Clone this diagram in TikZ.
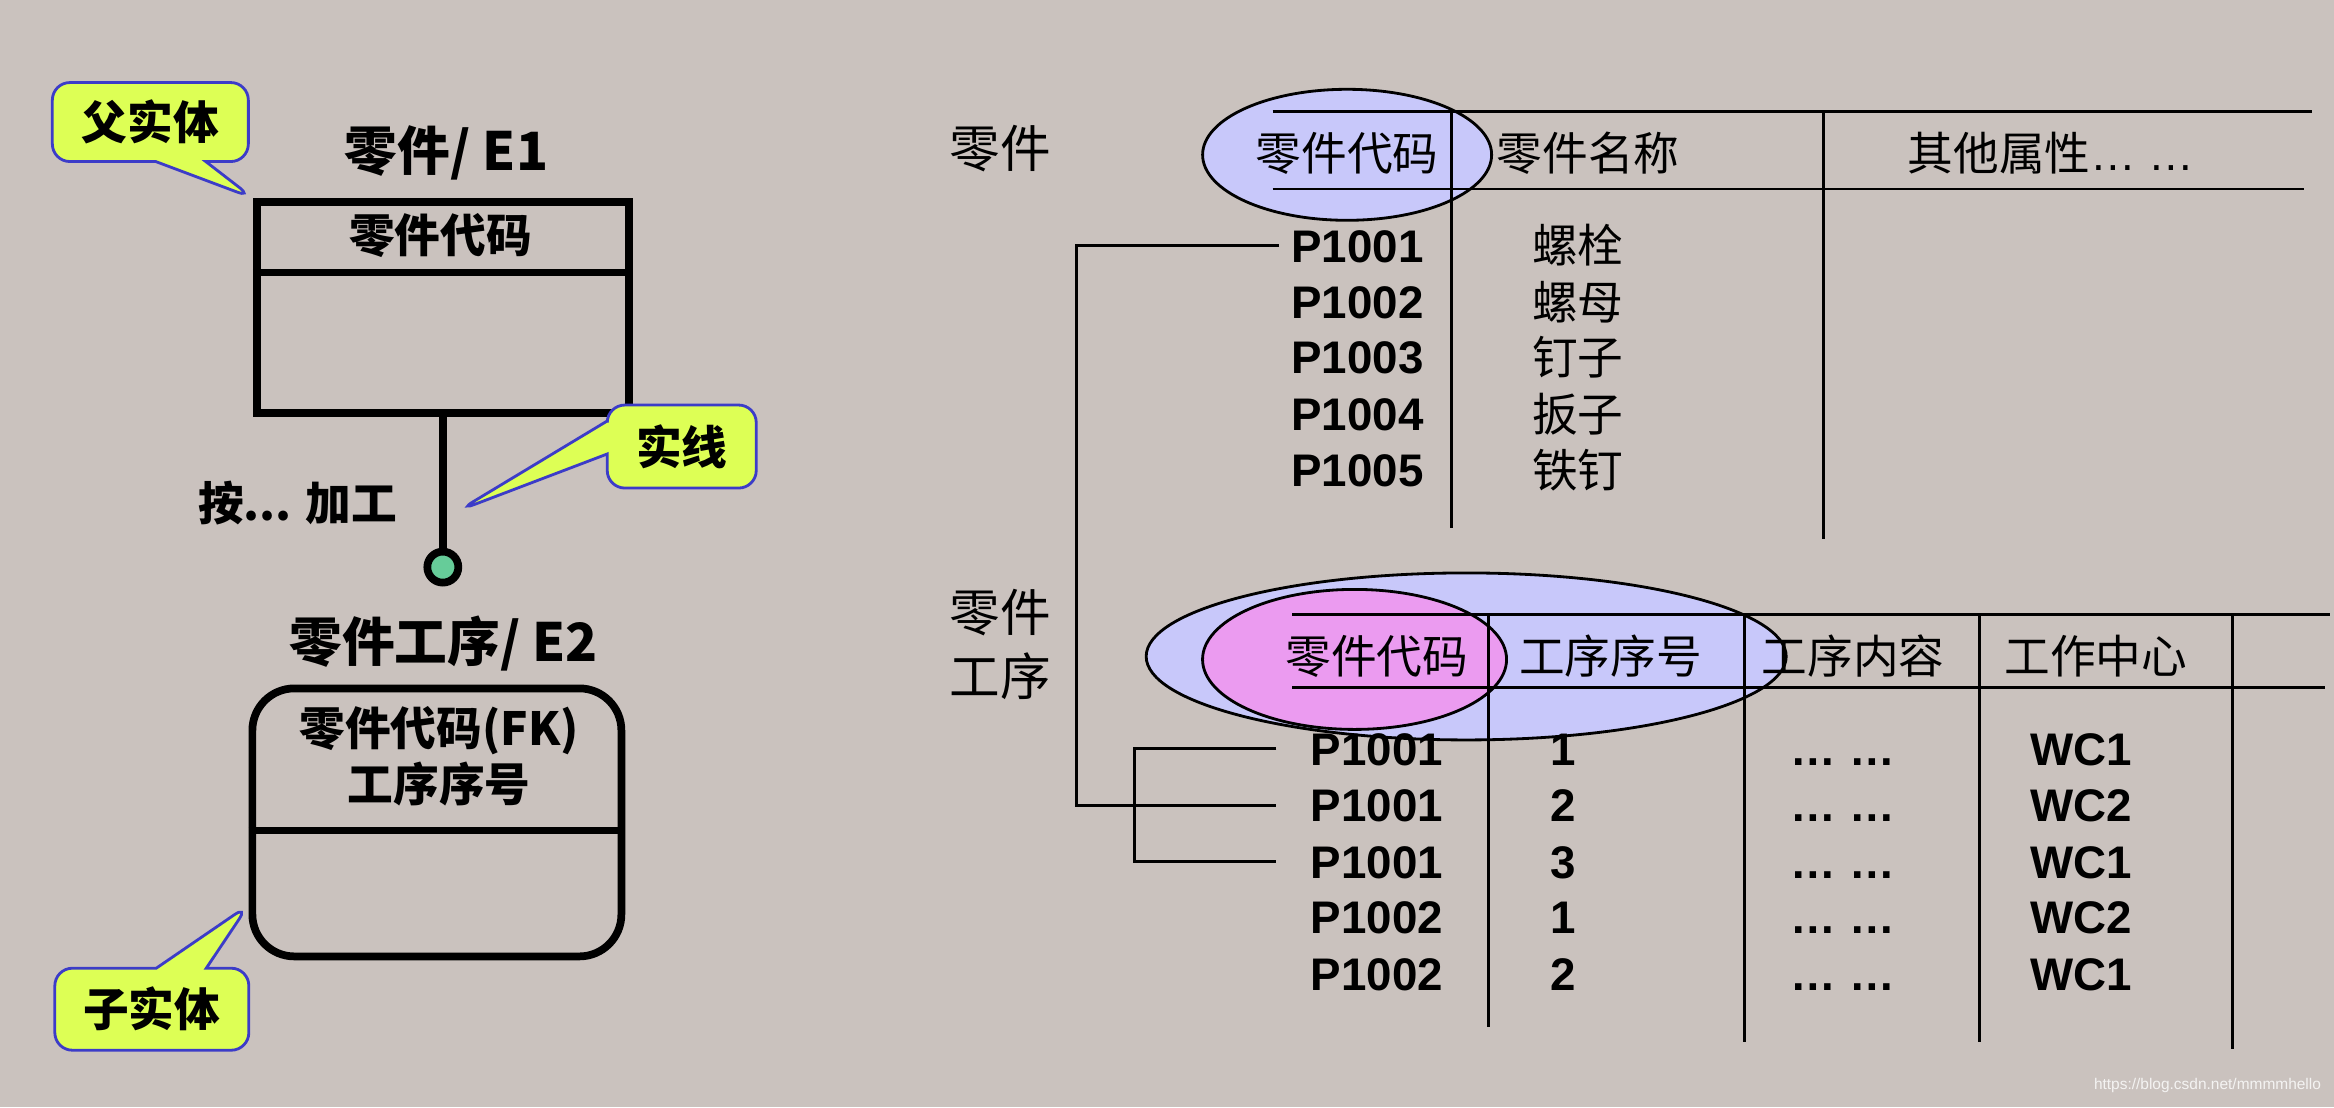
\documentclass[tikz,border=0pt]{standalone}
\usepackage{fontspec}
\setmainfont{Liberation Sans}
\newfontfamily\cjk{Noto Sans CJK SC}
\usetikzlibrary{shapes.callouts,shapes.geometric}

\definecolor{bgtone}{RGB}{202,194,190}
\definecolor{calloutfill}{RGB}{221,255,85}
\definecolor{calloutline}{RGB}{60,60,200}
\definecolor{keyblue}{RGB}{200,200,250}
\definecolor{keypink}{RGB}{235,155,240}
\definecolor{dotgreen}{RGB}{102,204,153}

\tikzset{
  headline/.style={font=\cjk\bfseries\fontsize{15}{18}\selectfont},
  boxtext/.style={font=\cjk\bfseries\fontsize{13}{16}\selectfont, align=center},
  head/.style={font=\cjk\fontsize{13}{16}\selectfont},
  tabname/.style={font=\cjk\fontsize{14.4}{18.2}\selectfont, align=center},
  code/.style={font=\bfseries\fontsize{13}{16}\selectfont, text height=9.4pt, text depth=0pt},
  callbox/.style={rectangle callout, draw=calloutline, fill=calloutfill, line width=0.8pt,
    rounded corners=5pt, inner sep=0pt, callout pointer width=5mm,
    font=\cjk\bfseries\fontsize{13}{16}\selectfont},
  entity/.style={draw, line width=2.2pt},
  tabrule/.style={line width=0.8pt},
  keyring/.style={draw, ellipse, line width=0.8pt, inner sep=0pt},
}

\begin{document}
\begin{tikzpicture}[x=0.14885mm, y=-0.14885mm]
\fill[bgtone] (0,0) rectangle (1568,744);
\useasboundingbox (0,0) rectangle (1568,744);

%Parent entity
\node[headline] (e1) at (300,103) {零件/ E1};
\node[entity, minimum width=37.2mm, minimum height=21.1mm] (e1box) at (297.5,206.5) {};
\draw[line width=2.2pt] (e1box.west |- 0,183) -- (e1box.east |- 0,183);
\node[boxtext] (e1key) at (296,158) {零件代码};

%Relationship
\node[entity, circle, fill=dotgreen, minimum size=3.1mm, inner sep=0pt] (dot) at (297.5,381) {};
\draw[line width=2.2pt] (e1box.south) -- (dot.north);
\node[boxtext] (rel) at (200,338) {按... 加工};

%Child entity
\node[headline] (e2) at (298,432) {零件工序/ E2};
\node[entity, rounded corners=4.2mm, minimum width=36.9mm, minimum height=26.8mm] (e2box) at (293.5,552.5) {};
\draw[line width=2.2pt] (e2box.west |- 0,558) -- (e2box.east |- 0,558);
\node[boxtext] (e2key) at (295,508) {零件代码(FK)\\工序序号};

%Callouts
\coordinate (stemmark) at (308,343);
\coordinate (childtip) at (167,608);
\node[callbox, minimum width=19.6mm, minimum height=7.9mm,
  callout absolute pointer={(e1box.north west)}] (parent) at (101,82) {父实体};
\node[callbox, minimum width=14.9mm, minimum height=8.3mm, callout pointer width=3.3mm,
  callout absolute pointer={(stemmark)}] (solid) at (458,300) {实线};
\node[callbox, minimum width=19.4mm, minimum height=8.2mm,
  callout absolute pointer={(childtip)}] (child) at (102,678) {子实体};

%Table of parts
\node[keyring, fill=keyblue, minimum width=28.9mm, minimum height=13.1mm] (ringa) at (905,104) {};
\node[tabname] (partname) at (672,100) {零件};
\draw[tabrule] (855,75) -- (1553,75);
\draw[tabrule] (855,127) -- (1548,127);
\draw[tabrule] (975,75) -- (975,355);
\draw[tabrule] (1225,75) -- (1225,362);
\node[head] (ha1) at (905,103) {零件代码};
\node[head] (ha2) at (1067,103) {零件名称};
\node[head] (ha3) at (1378,103) {其他属性{\rmfamily … …}};

\node[code] (pa1) at (912,165) {P1001};
\node[code] (pa2) at (912,203) {P1002};
\node[code] (pa3) at (912,240) {P1003};
\node[code] (pa4) at (912,278) {P1004};
\node[code] (pa5) at (912,316) {P1005};
\node[head] (na1) at (1060,165) {螺栓};
\node[head] (na2) at (1060,203) {螺母};
\node[head] (na3) at (1060,240) {钉子};
\node[head] (na4) at (1060,278) {扳子};
\node[head] (na5) at (1060,316) {铁钉};

%Table of part steps
\node[keyring, fill=keyblue, minimum width=64mm, minimum height=16.7mm] (ringb) at (985,441) {};
\node[keyring, fill=keypink, minimum width=30.4mm, minimum height=14mm] (ringc) at (910,443) {};
\node[tabname] (stepname) at (672,433) {零件\\工序};
\draw[tabrule] (868,413) -- (1565,413);
\draw[tabrule] (868,462) -- (1562,462);
\draw[tabrule] (1000,413) -- (1000,690);
\draw[tabrule] (1172,413) -- (1172,700);
\draw[tabrule] (1330,413) -- (1330,700);
\draw[tabrule] (1500,413) -- (1500,705);
\node[head] (hb1) at (925,441) {零件代码};
\node[head] (hb2) at (1082,441) {工序序号};
\node[head] (hb3) at (1245,441) {工序内容};
\node[head] (hb4) at (1408,441) {工作中心};

\node[code] (qa1) at (925,503) {P1001};
\node[code] (qa2) at (925,541) {P1001};
\node[code] (qa3) at (925,579) {P1001};
\node[code] (qa4) at (925,616) {P1002};
\node[code] (qa5) at (925,654) {P1002};
\node[code] (qb1) at (1050,503) {1};
\node[code] (qb2) at (1050,541) {2};
\node[code] (qb3) at (1050,579) {3};
\node[code] (qb4) at (1050,616) {1};
\node[code] (qb5) at (1050,654) {2};
\node[code] (qc1) at (1238,503) {… …};
\node[code] (qc2) at (1238,541) {… …};
\node[code] (qc3) at (1238,579) {… …};
\node[code] (qc4) at (1238,616) {… …};
\node[code] (qc5) at (1238,654) {… …};
\node[code] (qd1) at (1398,503) {WC1};
\node[code] (qd2) at (1398,541) {WC2};
\node[code] (qd3) at (1398,579) {WC1};
\node[code] (qd4) at (1398,616) {WC2};
\node[code] (qd5) at (1398,654) {WC1};

%Links between the tables
\coordinate (bendout) at (723,0);
\coordinate (bendin) at (762,0);
\draw[tabrule] (pa1.west) -- (pa1.west -| bendout) -- (qa2.west -| bendout) -- ([xshift=-2.2mm]qa2.west);
\draw[tabrule] ([xshift=-2.2mm]qa1.west) -- (qa1.west -| bendin) -- (qa3.west -| bendin) -- ([xshift=-2.2mm]qa3.west);

\node[font=\fontsize{4.4}{5}\selectfont, text=white!80!bgtone] (mark) at (1483,729) {https://blog.csdn.net/mmmmhello};
\end{tikzpicture}
\end{document}
